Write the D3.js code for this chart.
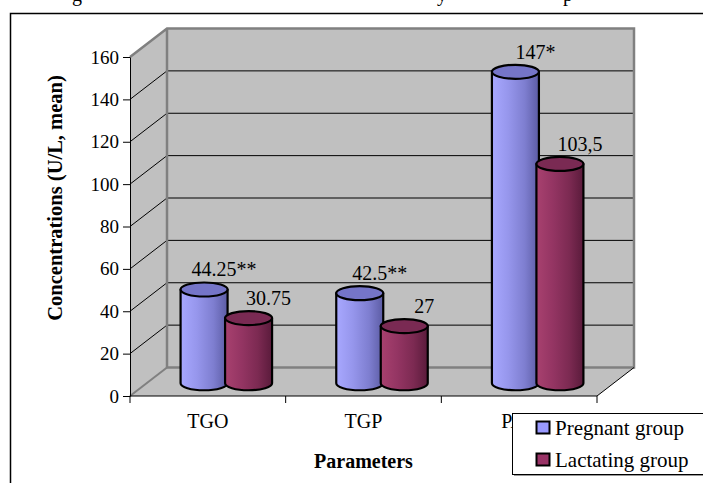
<!DOCTYPE html>
<html>
<head>
<meta charset="utf-8">
<script src="https://cdnjs.cloudflare.com/ajax/libs/d3/7.8.5/d3.min.js"></script>
<style>
  body { margin: 0; background: #fff; }
  svg text { font-family: "Liberation Serif", "Times New Roman", serif; fill: #000; }
</style>
</head>
<body>
<div class="chart"></div>
<script>
var categories = ['TGO', 'TGP', 'PAL'];
var series = ['Pregnant group', 'Lactating group'];
var pregnant = [44.25, 42.5, 147];
var lactating = [30.75, 27, 103.5];
var pregnantLabels = ['44.25**', '42.5**', '147*'];
var lactatingLabels = ['30.75', '27', '103,5'];
var yTicks = [0, 20, 40, 60, 80, 100, 120, 140, 160];

(function() {
  var opts = {
    width: 703,
    height: 483,
    depthX: 37,
    depthY: -28.5,
    rx: 23.5,
    ry: 7
  };

  var svg = d3.select('.chart')
              .append('svg')
              .attr('width', opts.width)
              .attr('height', opts.height);

  var defs = svg.append('defs');
  var grad = function(id, stops) {
    var g = defs.append('linearGradient').attr('id', id)
      .attr('x1', 0).attr('x2', 1).attr('y1', 0).attr('y2', 0);
    stops.forEach(function(s) {
      g.append('stop').attr('offset', s[0]).attr('stop-color', s[1]);
    });
  };
  grad('gPreg', [[0, '#a8a8ff'], [0.35, '#9696ec'], [0.7, '#7e7ed0'], [1, '#5c5ca4']]);
  grad('gLact', [[0, '#a8416f'], [0.35, '#943563'], [0.7, '#7c2a52'], [1, '#5a1b3b']]);
  var topFill = ['#7575c8', '#7a2a53'];
  var bodyFill = ['url(#gPreg)', 'url(#gLact)'];

  var y = d3.scaleLinear().domain([0, 160]).range([396, 57]);
  var x = d3.scaleBand().domain(categories).range([130, 597]);
  var xs = d3.scaleBand().domain(series).range([-44.5, 44.5]);

  var x0 = x.range()[0], x1 = x.range()[1];
  var dx = opts.depthX, dy = opts.depthY;
  var serif = 'Liberation Serif';

  // caption cut off at the top of the picture
  [['g', 72], ['y', 437], ['p', 563]].forEach(function(c) {
    svg.append('text').attr('x', c[1]).attr('y', 1)
      .attr('font-size', 20).attr('font-family', serif).text(c[0]);
  });

  // outer chart frame
  svg.append('rect')
    .attr('x', 10.5).attr('y', 13.5)
    .attr('width', 720).attr('height', 500)
    .attr('fill', 'none').attr('stroke', '#000').attr('stroke-width', 1.5);

  // walls and floor
  var wallPts = [[x0 + dx, y(160) + dy], [x1 + dx, y(160) + dy], [x1 + dx, y(0) + dy], [x0 + dx, y(0) + dy]];
  var sidePts = [[x0, y(160)], [x0 + dx, y(160) + dy], [x0 + dx, y(0) + dy], [x0, y(0)]];
  var floorPts = [[x0, y(0)], [x1, y(0)], [x1 + dx, y(0) + dy], [x0 + dx, y(0) + dy]];
  [sidePts, wallPts, floorPts].forEach(function(p) {
    svg.append('polygon')
      .attr('points', p.map(function(d) { return d.join(','); }).join(' '))
      .attr('fill', '#c0c0c0');
  });

  var grid = yTicks.filter(function(d) { return d > 0 && d < 160; });
  svg.selectAll('.gridBack').data(grid).enter().append('line')
    .attr('x1', x0 + dx).attr('x2', x1 + dx)
    .attr('y1', function(d) { return y(d) + dy; })
    .attr('y2', function(d) { return y(d) + dy; })
    .attr('stroke', '#000').attr('stroke-width', 1);
  svg.selectAll('.gridSide').data(grid).enter().append('line')
    .attr('x1', x0).attr('x2', x0 + dx)
    .attr('y1', function(d) { return y(d); })
    .attr('y2', function(d) { return y(d) + dy; })
    .attr('stroke', '#000').attr('stroke-width', 1);

  var gray = '#808080';
  svg.append('polyline')
    .attr('points', [[x0, y(160)], [x0 + dx, y(160) + dy], [x1 + dx, y(160) + dy],
                     [x1 + dx, y(0) + dy], [x0 + dx, y(0) + dy], [x0 + dx, y(160) + dy]]
      .map(function(d) { return d.join(','); }).join(' '))
    .attr('fill', 'none').attr('stroke', gray).attr('stroke-width', 2.5);
  svg.append('line')
    .attr('x1', x0).attr('y1', y(0)).attr('x2', x0 + dx).attr('y2', y(0) + dy)
    .attr('stroke', gray).attr('stroke-width', 2);
  svg.append('line')
    .attr('x1', x1).attr('y1', y(0)).attr('x2', x1 + dx).attr('y2', y(0) + dy)
    .attr('stroke', '#000').attr('stroke-width', 1);

  // axes
  svg.append('g')
    .attr('transform', 'translate(' + x0 + ',0)')
    .call(d3.axisLeft(y).tickValues(yTicks).tickSize(7).tickPadding(4).tickSizeOuter(0))
    .call(function(g) {
      g.attr('font-family', serif).attr('font-size', 19);
      g.selectAll('line, path').attr('stroke', '#000');
    });

  var xg = svg.append('g').attr('transform', 'translate(0,' + y(0) + ')');
  xg.append('line').attr('x1', x0).attr('x2', x1).attr('stroke', '#000');
  xg.selectAll('.tick').data(d3.range(categories.length + 1)).enter().append('line')
    .attr('x1', function(i) { return x0 + i * x.step(); })
    .attr('x2', function(i) { return x0 + i * x.step(); })
    .attr('y1', 0).attr('y2', 7).attr('stroke', '#000');
  xg.selectAll('.xlab').data(categories).enter().append('text')
    .attr('x', function(d) { return x(d) + x.bandwidth() / 2; })
    .attr('y', 32)
    .attr('text-anchor', 'middle')
    .attr('font-size', 20).attr('font-family', serif)
    .text(function(d) { return d; });

  // cylinders
  var rows = [];
  categories.forEach(function(c, i) {
    [pregnant, lactating].forEach(function(arr, s) {
      rows.push({
        cat: c, s: s, v: arr[i],
        label: [pregnantLabels, lactatingLabels][s][i]
      });
    });
  });
  rows.forEach(function(d) {
    d.cx = x(d.cat) + x.bandwidth() / 2 + dx / 2 + xs(series[d.s]) + xs.bandwidth() / 2;
    d.yb = y(0) + dy / 2 + 1.5;
    d.yt = y(d.v) + dy / 2 + 1.5;
  });

  svg.selectAll('.lab').data(rows).enter().append('text')
    .attr('x', function(d) { return d.cx + 20; })
    .attr('y', function(d) { return d.yt - 13; })
    .attr('text-anchor', 'middle')
    .attr('font-size', 20).attr('font-family', serif)
    .text(function(d) { return d.label; });

  var rx = opts.rx, ry = opts.ry;
  var cyl = svg.selectAll('.cyl').data(rows).enter().append('g');
  cyl.append('path')
    .attr('d', function(d) {
      return 'M' + (d.cx - rx) + ',' + d.yt +
        'L' + (d.cx - rx) + ',' + d.yb +
        'A' + rx + ',' + ry + ' 0 0 0 ' + (d.cx + rx) + ',' + d.yb +
        'L' + (d.cx + rx) + ',' + d.yt + 'Z';
    })
    .attr('fill', function(d) { return bodyFill[d.s]; })
    .attr('stroke', '#000').attr('stroke-width', 2.2).attr('stroke-linejoin', 'round');
  cyl.append('ellipse')
    .attr('cx', function(d) { return d.cx; })
    .attr('cy', function(d) { return d.yt; })
    .attr('rx', rx).attr('ry', ry)
    .attr('fill', function(d) { return topFill[d.s]; })
    .attr('stroke', '#000').attr('stroke-width', 2.2);

  // axis titles
  svg.append('text')
    .attr('transform', 'translate(62,198) rotate(-90)')
    .attr('text-anchor', 'middle')
    .attr('font-size', 20.5).attr('font-weight', 'bold').attr('font-family', serif)
    .text('Concentrations (U/L, mean)');
  svg.append('text')
    .attr('x', (x0 + x1) / 2).attr('y', 468)
    .attr('text-anchor', 'middle')
    .attr('font-size', 20).attr('font-weight', 'bold').attr('font-family', serif)
    .text('Parameters');

  // legend
  var leg = svg.append('g').attr('transform', 'translate(512,413)');
  leg.append('rect').attr('x', 2).attr('y', 2).attr('width', 200).attr('height', 61)
    .attr('fill', '#999');
  leg.append('rect').attr('x', 0.5).attr('y', 0.5).attr('width', 200).attr('height', 61)
    .attr('fill', '#fff').attr('stroke', '#000');
  var item = leg.selectAll('.item').data(series).enter().append('g')
    .attr('transform', function(d, i) { return 'translate(0,' + (i * 32) + ')'; });
  item.append('rect')
    .attr('x', 24.5).attr('y', 8.5).attr('width', 13).attr('height', 12)
    .attr('fill', function(d, i) { return i === 0 ? '#9999ff' : '#993366'; })
    .attr('stroke', '#000').attr('stroke-width', 2);
  item.append('text')
    .attr('x', 43).attr('y', 22)
    .attr('font-size', 21).attr('font-family', serif)
    .text(function(d) { return d; });
}).call(this);
</script>
</body>
</html>
